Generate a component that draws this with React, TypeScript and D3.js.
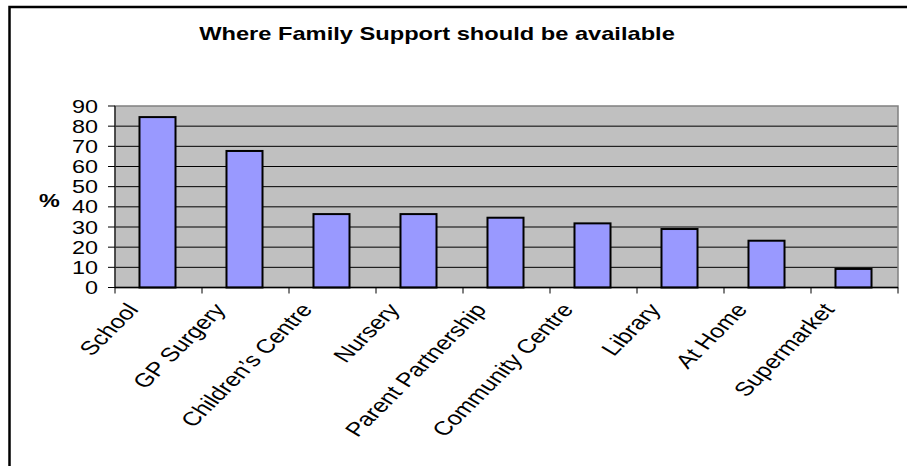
import React from "react";
import * as d3 from "d3";

const categories = [
  "School",
  "GP Surgery",
  "Children\u2019s Centre",
  "Nursery",
  "Parent Partnership",
  "Community Centre",
  "Library",
  "At Home",
  "Supermarket",
];
const values = [84.5, 67.7, 36.4, 36.4, 34.6, 31.8, 29.0, 23.2, 9.2];
const yTicks = [0, 10, 20, 30, 40, 50, 60, 70, 80, 90];
const title = "Where Family Support should be available";
const yLabel = "%";

const W = 907;
const H = 466;
const FONT = "'Liberation Sans', Arial, sans-serif";
const SX = 1.3;

export default function App() {
  const plot = { left: 115, right: 898, top: 106, bottom: 287.5 };
  const y = d3.scaleLinear().domain([0, 90]).range([plot.bottom, plot.top]);
  const xOuter = d3.scaleBand<string>().domain(categories).range([plot.left, plot.right]).padding(0);
  const x = d3
    .scaleBand<string>()
    .domain(categories)
    .range([plot.left, plot.right])
    .paddingInner(0.586)
    .paddingOuter(0.293);
  const step = xOuter.step();

  return (
    <svg
      width={W}
      height={H}
      style={{ position: "absolute", left: 0, top: 0, background: "#fff" }}
      fontFamily={FONT}
    >
      <rect x={0} y={0} width={W} height={H} fill="#fff" />
      {/* outer chart border (clipped by image edges) */}
      <rect x={9.5} y={7} width={W + 20} height={H + 20} fill="none" stroke="#000" strokeWidth={2.5} />

      {/* title */}
      <text
        transform={`translate(437,40) scale(${SX},1)`}
        textAnchor="middle"
        fontSize={18.2}
        fontWeight="bold"
        fill="#000"
      >
        {title}
      </text>

      {/* plot area */}
      <rect
        x={plot.left}
        y={plot.top}
        width={plot.right - plot.left}
        height={plot.bottom - plot.top}
        fill="#C0C0C0"
      />
      {yTicks.slice(1, -1).map((t) => (
        <line key={t} x1={plot.left} x2={plot.right} y1={y(t)} y2={y(t)} stroke="#000" strokeWidth={1} />
      ))}
      <rect
        x={plot.left}
        y={plot.top}
        width={plot.right - plot.left}
        height={plot.bottom - plot.top}
        fill="none"
        stroke="#808080"
        strokeWidth={1.5}
      />

      {/* bars */}
      {categories.map((c, i) => (
        <rect
          key={c}
          x={(x(c) as number) - 1}
          y={y(values[i])}
          width={x.bandwidth()}
          height={y(0) - y(values[i])}
          fill="#9999FF"
          stroke="#000"
          strokeWidth={2}
        />
      ))}

      {/* axes */}
      <line x1={plot.left} x2={plot.left} y1={plot.top} y2={plot.bottom} stroke="#000" strokeWidth={1} />
      <line x1={plot.left} x2={plot.right} y1={plot.bottom} y2={plot.bottom} stroke="#000" strokeWidth={1.5} />
      {yTicks.map((t) => (
        <g key={t}>
          <line x1={plot.left - 7} x2={plot.left} y1={y(t)} y2={y(t)} stroke="#000" strokeWidth={1} />
          <text
            transform={`translate(98,${y(t) + 6.5}) scale(${SX},1)`}
            textAnchor="end"
            fontSize={18}
            fill="#000"
          >
            {t}
          </text>
        </g>
      ))}
      {categories.map((c, i) => (
        <line
          key={"tk" + c}
          x1={plot.left + i * step}
          x2={plot.left + i * step}
          y1={plot.bottom}
          y2={plot.bottom + 6}
          stroke="#000"
          strokeWidth={1}
        />
      ))}
      <line x1={plot.right} x2={plot.right} y1={plot.bottom} y2={plot.bottom + 6} stroke="#000" strokeWidth={1} />

      {/* y label */}
      <text
        transform={`translate(49.5,207) scale(${SX},1)`}
        textAnchor="middle"
        fontSize={18}
        fontWeight="bold"
        fill="#000"
      >
        {yLabel}
      </text>

      {/* category labels */}
      {categories.map((c) => {
        const cx = (xOuter(c) as number) + step / 2;
        return (
          <text
            key={"lb" + c}
            transform={`translate(${cx - 19},310) scale(${SX},1) rotate(-52)`}
            textAnchor="end"
            fontSize={19.5}
            fill="#000"
          >
            {c}
          </text>
        );
      })}
    </svg>
  );
}
